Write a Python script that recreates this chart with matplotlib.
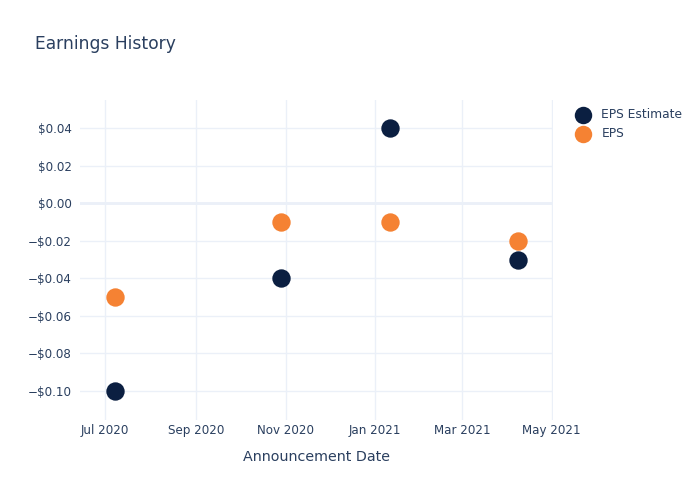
import numpy as np
import matplotlib.pyplot as plt
import matplotlib.dates as mdates
from matplotlib.ticker import FuncFormatter, FixedLocator

# dados
datas = np.array(['2020-07-08', '2020-10-29', '2021-01-11', '2021-04-08'], dtype='datetime64[D]')
eps_estimate = [-0.10, -0.04, 0.04, -0.03]
eps = [-0.05, -0.01, -0.01, -0.02]

texto = '#2a3f5f'
grade = '#ebf0f8'
cor_est = '#0b1f41'
cor_eps = '#f58233'

plt.rcParams['font.family'] = ['DejaVu Sans']

fig = plt.figure(figsize=(7, 5), dpi=100)
ax = fig.add_axes([80/700, 80/500, 473/700, 320/500])

ax.scatter(datas, eps_estimate, s=175, color=cor_est, label='EPS Estimate', zorder=3, linewidths=0)
ax.scatter(datas, eps, s=175, color=cor_eps, label='EPS', zorder=3, linewidths=0)

ax.set_xlim(np.datetime64('2020-06-14'), np.datetime64('2021-05-02'))
ax.set_ylim(-0.1154, 0.0549)

ax.xaxis.set_major_locator(mdates.MonthLocator(bymonth=[1, 3, 5, 7, 9, 11]))
ax.xaxis.set_major_formatter(mdates.DateFormatter('%b %Y'))
ax.yaxis.set_major_locator(FixedLocator(np.arange(-0.10, 0.05, 0.02)))


def dolar(v, pos):
    if abs(v) < 1e-9:
        return '$0.00'
    s = '$%.2f' % abs(v)
    return ('\u2212' + s) if v < 0 else s


ax.yaxis.set_major_formatter(FuncFormatter(dolar))

for sp in ax.spines.values():
    sp.set_visible(False)
ax.grid(True, color=grade, linewidth=1, zorder=0)
ax.axhline(0, color=grade, linewidth=2, zorder=1)
ax.tick_params(length=0, labelsize=8.6, labelcolor=texto, pad=3)
ax.tick_params(axis='y', pad=6)

ax.set_xlabel('Announcement Date', fontsize=10.3, color=texto, labelpad=9)
fig.text(35/700, 1 - 44/500, 'Earnings History', fontsize=12.3, color=texto, va='center', ha='left')

fig.legend(loc='upper left', bbox_to_anchor=(566/700, 1 - 103/500), frameon=False,
           fontsize=8.8, labelcolor=texto, markerscale=0.95, handletextpad=0.5,
           labelspacing=0.5, borderaxespad=0)

plt.savefig('out.png')
